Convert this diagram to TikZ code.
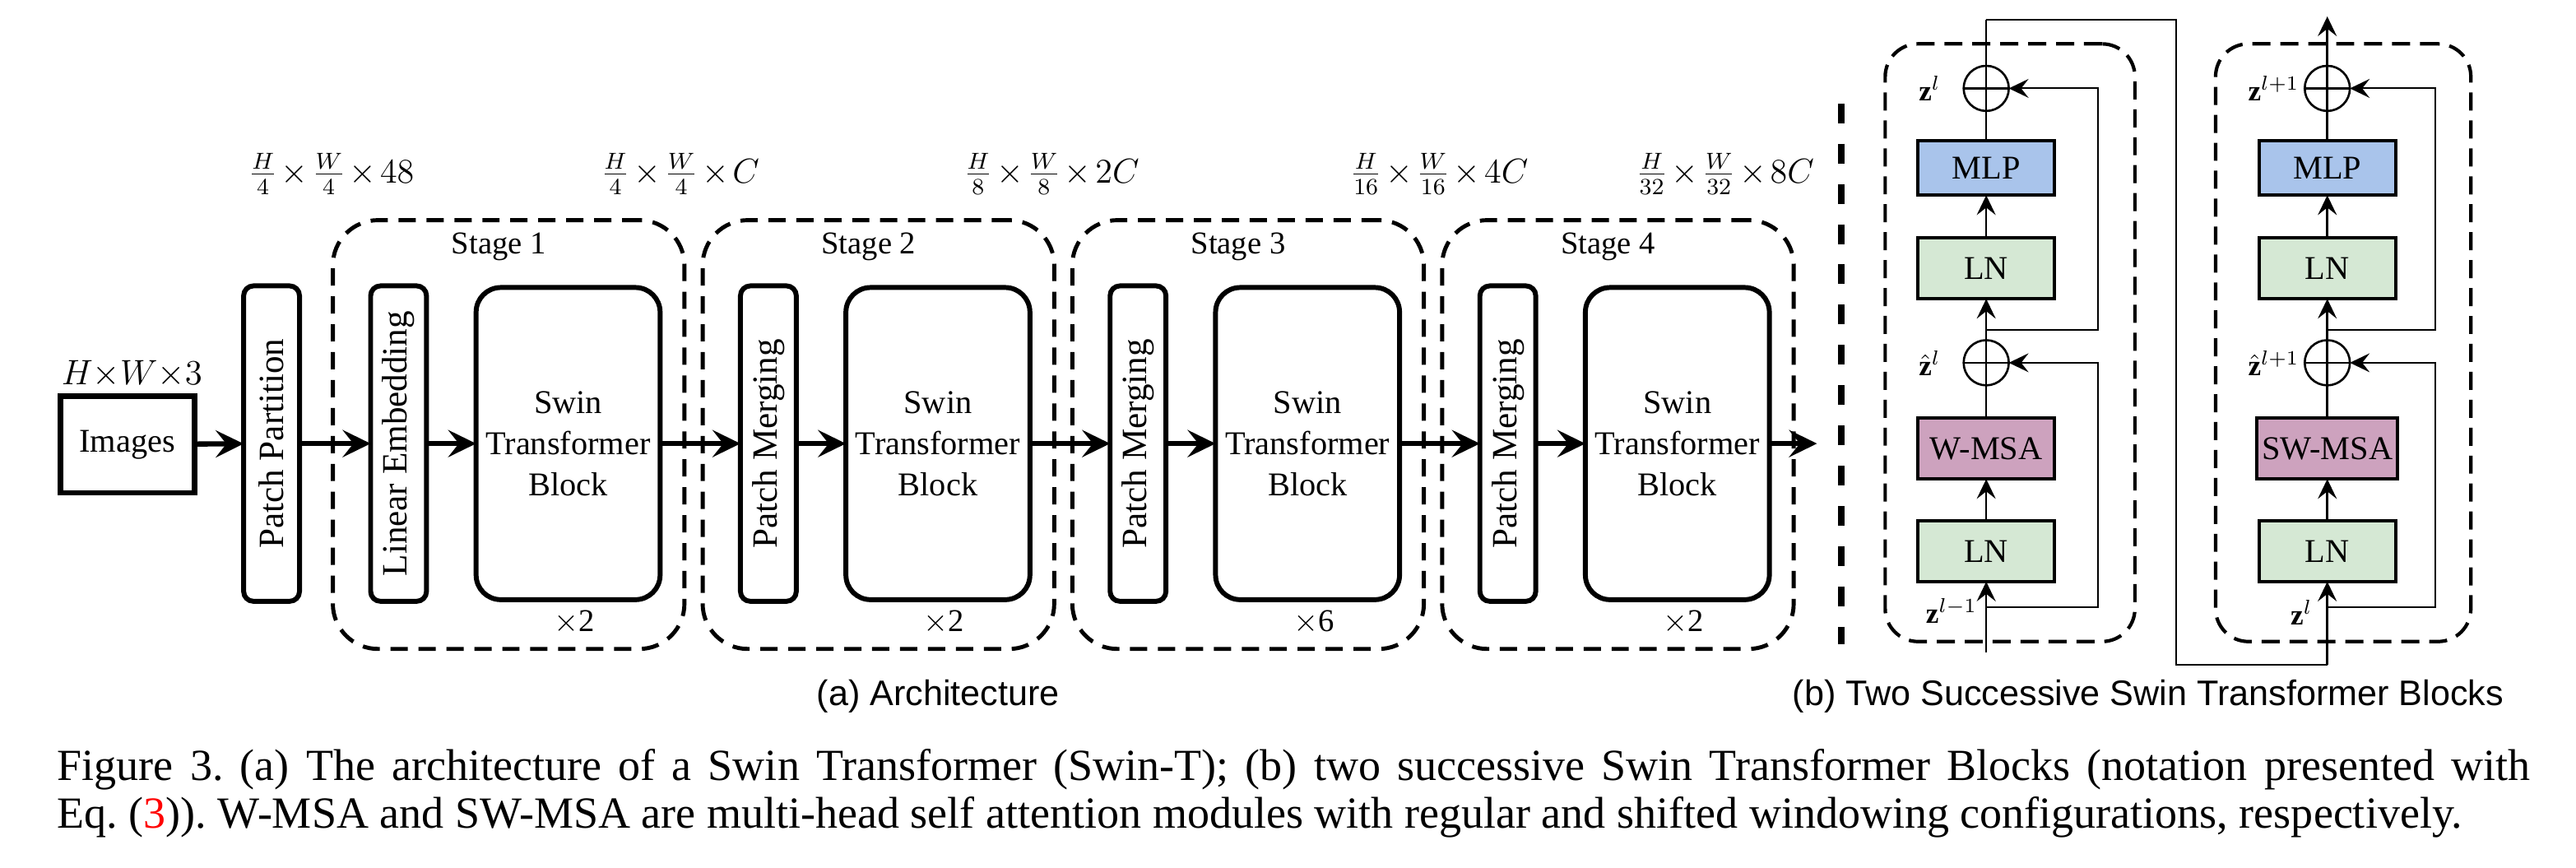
\documentclass[tikz,border=0pt]{standalone}
\usepackage{fix-cm}
\usepackage{fontspec}
\setmainfont{Liberation Serif}
\setsansfont{Liberation Sans}
\usetikzlibrary{arrows.meta}
\definecolor{mlpblue}{HTML}{A9C4EB}
\definecolor{lngreen}{HTML}{D5E8D4}
\definecolor{msapurple}{HTML}{CDA2BE}
\frenchspacing
\newcommand{\tx}{\mskip2mu{\times}\mskip2mu}
\begin{document}
\begin{tikzpicture}[x=0.2mm,y=-0.2mm,
  every node/.style={inner sep=0pt, outer sep=0pt},
  txt/.style={font=\fontsize{11.5}{14.2}\selectfont},
  dimlab/.style={font=\fontsize{12}{14}\selectfont},
  imgbox/.style={draw, line width=1.9pt, minimum width=81.6*0.2mm, minimum height=59*0.2mm, txt},
  tallbox/.style={draw, line width=1.7pt, rounded corners=1.2mm, minimum width=34*0.2mm, minimum height=192*0.2mm, font=\fontsize{12.3}{14}\selectfont},
  stbbox/.style={draw, line width=1.7pt, rounded corners=3mm, minimum width=112*0.2mm, minimum height=190*0.2mm, align=center, txt},
  stagebox/.style={draw, line width=1.4pt, dash pattern=on 2.1mm off 1.3mm, rounded corners=5.5mm, minimum width=214*0.2mm, minimum height=261*0.2mm},
  mainarrow/.style={line width=1.8pt, -{Stealth[length=3.4mm,width=3.3mm,inset=1.3mm]}},
  sepline/.style={line width=2.3pt, dash pattern=on 2.4mm off 2.5mm},
  blockdash/.style={draw, line width=1.2pt, dash pattern=on 2.2mm off 1.2mm, rounded corners=4mm},
  rbox/.style={draw, line width=1.1pt, minimum width=83*0.2mm, minimum height=37*0.2mm, txt},
  oplus/.style={draw, circle, line width=0.75pt, minimum size=27.5*0.2mm,
    path picture={\draw[line width=0.75pt] (path picture bounding box.west) -- (path picture bounding box.east) (path picture bounding box.north) -- (path picture bounding box.south);}},
  flow/.style={line width=0.75pt},
  flowarrow/.style={line width=0.75pt, -{Stealth[length=2.4mm,width=2.3mm,inset=0.9mm]}},
  skiparrow/.style={line width=0.55pt, -{Stealth[length=2.4mm,width=2.3mm,inset=0.9mm]}},
  zlab/.style={font=\fontsize{10}{12}\selectfont},
  subcap/.style={font=\sffamily\fontsize{12.3}{14}\selectfont},
  capfont/.style={font=\fontsize{15.4}{17}\selectfont},
]
\useasboundingbox (0,0) rectangle (1568,527.85);

% ---------- (a) Architecture ----------
\node[imgbox] (imgs) at (77.5,270.5) {Images};
\node[dimlab, font=\fontsize{12.2}{14}\selectfont] (hw3) at (80.3,227.5) {${H}{\times}{W}{\times}3$};
\node[tallbox] (pp) at (165.3,270) {\rotatebox{90}{Patch Partition}};

\foreach \k/\C/\tl/\rep in {1/309.6/Linear Embedding/2, 2/534.7/Patch Merging/2, 3/759.7/Patch Merging/6, 4/984.8/Patch Merging/2} {
  \node[stagebox] (s\k) at (\C,264.5) {};
  \node[txt, font=\fontsize{11}{13}\selectfont] (st\k) at (\C-6,150) {Stage \k};
  \node[tallbox] (tb\k) at (\C-67,270) {\rotatebox{90}{\tl}};
  \node[stbbox] (stb\k) at (\C+36.2,270) {Swin\\Transformer\\Block};
  \node[txt, font=\fontsize{11}{13}\selectfont] (rep\k) at (\C+40,379) {$\times$\rep};
  \draw[mainarrow] (tb\k) -- (stb\k);
}

\node[dimlab] (d1) at (201.7,106) {$\frac{H}{4}\tx\frac{W}{4}\tx 48$};
\node[dimlab] (d2) at (414,106) {$\frac{H}{4}\tx\frac{W}{4}\tx C$};
\node[dimlab] (d3) at (640,106) {$\frac{H}{8}\tx\frac{W}{8}\tx 2C$};
\node[dimlab] (d4) at (876,106) {$\frac{H}{16}\tx\frac{W}{16}\tx 4C$};
\node[dimlab] (d5) at (1050,106) {$\frac{H}{32}\tx\frac{W}{32}\tx 8C$};

\draw[mainarrow] (imgs) -- (pp);
\draw[mainarrow] (pp) -- (tb1);
\draw[mainarrow] (stb1) -- (tb2);
\draw[mainarrow] (stb2) -- (tb3);
\draw[mainarrow] (stb3) -- (tb4);
\coordinate (aout) at (1106,270);
\draw[mainarrow] (stb4) -- (aout);

\node[subcap] (capa) at (571,424) {(a) Architecture};

% ---------- separator ----------
\coordinate (sepT) at (1121,63);
\coordinate (sepB) at (1121,392);
\draw[sepline] (sepT) -- (sepB);

% ---------- (b) blocks ----------
\node[blockdash, minimum width=152*0.2mm, minimum height=363.8*0.2mm] (blkL) at (1223.5,208.6) {};
\node[blockdash, minimum width=155.4*0.2mm, minimum height=363.8*0.2mm] (blkR) at (1426.3,208.6) {};

\foreach \c/\X/\msa/\w/\sk in {L/1209/W-MSA/83/1277, R/1416.6/SW-MSA/85.7/1482.5} {
  \node[rbox, fill=lngreen] (lnA\c) at (\X,335.5) {LN};
  \node[rbox, fill=msapurple, minimum width=\w*0.2mm] (msa\c) at (\X,273.1) {\msa};
  \node[oplus] (addA\c) at (\X,220.8) {};
  \node[rbox, fill=lngreen] (lnB\c) at (\X,163.4) {LN};
  \node[rbox, fill=mlpblue, minimum height=33.3*0.2mm] (mlp\c) at (\X,102.2) {MLP};
  \node[oplus] (addB\c) at (\X,53.8) {};
  \coordinate (brA\c) at (\X,369.6);
  \coordinate (brB\c) at (\X,200.8);
  \draw[flowarrow] (lnA\c) -- (msa\c);
  \draw[flow] (msa\c) -- (addA\c);
  \draw[flowarrow] (addA\c) -- (lnB\c);
  \draw[flowarrow] (lnB\c) -- (mlp\c);
  \draw[flow] (mlp\c) -- (addB\c);
  \draw[skiparrow] (brA\c) -- (\sk,369.6) |- (addA\c);
  \draw[skiparrow] (brB\c) -- (\sk,200.8) |- (addB\c);
}

% labels
\node[zlab, anchor=west] (zl1) at (1168,54) {$\mathbf{z}^{l}$};
\node[zlab, anchor=west] (zh1) at (1168,221) {$\hat{\mathbf{z}}^{l}$};
\node[zlab, anchor=east] (zin1) at (1203.5,372) {$\mathbf{z}^{l-1}$};
\node[zlab, anchor=west] (zl2) at (1368.5,54) {$\mathbf{z}^{l+1}$};
\node[zlab, anchor=west] (zh2) at (1368.5,221) {$\hat{\mathbf{z}}^{l+1}$};
\node[zlab, anchor=east] (zin2) at (1407.5,373) {$\mathbf{z}^{l}$};

% inputs / outputs
\coordinate (inL) at (1209,397);
\draw[flowarrow] (inL) -- (lnAL);
\coordinate (topL) at (1209,12);
\coordinate (topM) at (1324.5,12);
\coordinate (botM) at (1324.5,404.6);
\coordinate (botR) at (1416.6,404.6);
\draw[flow] (addBL) -- (topL);
\draw[line width=0.55pt] (topL) -- (topM) -- (botM) -- (botR);
\draw[flowarrow] (botR) -- (lnAR);
\coordinate (outR) at (1416.6,10);
\draw[flowarrow] (addBR) -- (outR);

\node[subcap] (capb) at (1307.5,424) {(b) Two Successive Swin Transformer Blocks};

% ---------- caption ----------
\node[capfont, anchor=base west] (cap1) at (35,475) {\makebox[301mm][s]{Figure 3. (a) The architecture of a Swin Transformer (Swin-T); (b) two successive Swin Transformer Blocks (notation presented with}};
\node[capfont, anchor=base west] (cap2) at (35,504) {Eq. (\textcolor{red}{3})). W-MSA and SW-MSA are multi-head self attention modules with regular and shifted windowing configurations, respectively.};
\end{tikzpicture}
\end{document}
